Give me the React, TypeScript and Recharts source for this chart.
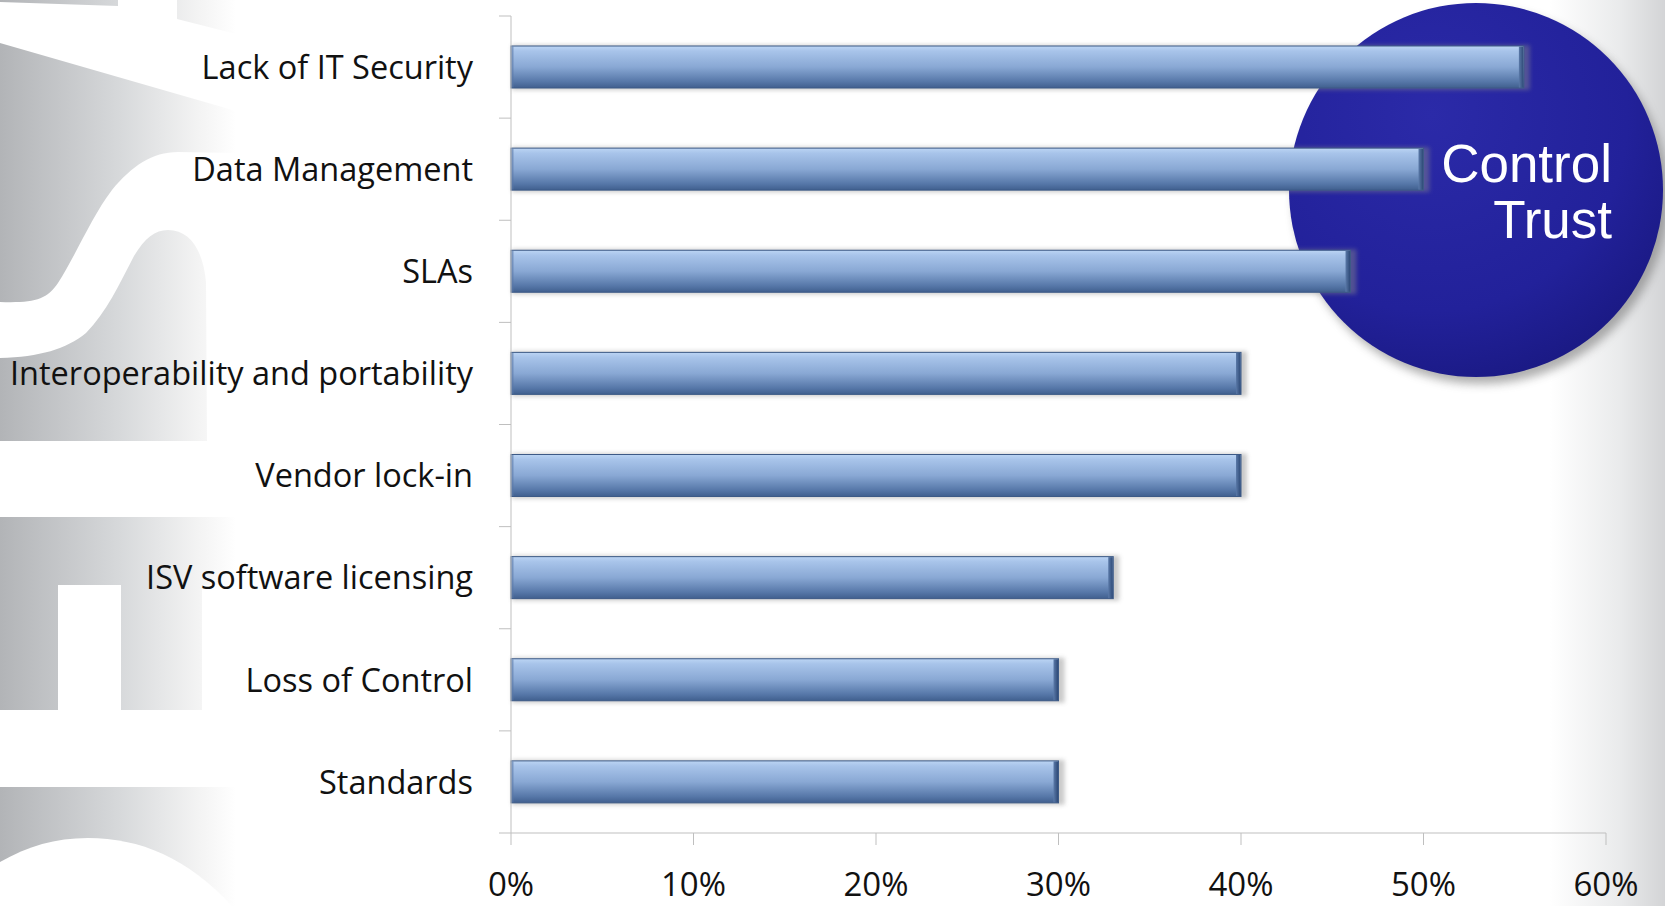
import { BarChart, Bar, XAxis, YAxis } from "recharts";

const CATEGORIES = [
  "Lack of IT Security",
  "Data Management",
  "SLAs",
  "Interoperability and portability",
  "Vendor lock-in",
  "ISV software licensing",
  "Loss of Control",
  "Standards",
];
const SHARES = [0.555, 0.5, 0.46, 0.4, 0.4, 0.33, 0.3, 0.3];
const X_TICKS = [0, 0.1, 0.2, 0.3, 0.4, 0.5, 0.6];
const BADGE_LINES = ["Control", "Trust"];

const W = 1665;
const H = 906;
const MARGIN = { top: 16, right: 59, bottom: 0, left: 0 };
const Y_AXIS_W = 511;
const X_AXIS_H = 73;
const PLOT_H = H - MARGIN.top - X_AXIS_H;
const BAND = PLOT_H / CATEGORIES.length;

const data = CATEGORIES.map((name, i) => ({ name, value: SHARES[i] }));

const LABEL_FONT = "'Open Sans', Lato, sans-serif";
const AXIS_GREY = "#bfbfbf";

function CategoryTick(props: any) {
  const { x, y, payload, index } = props;
  const last = index === CATEGORIES.length - 1;
  const ax = x + 8; // props.x sits tickSize+margin left of the axis
  return (
    <g>
      <line x1={ax - 12} x2={ax} y1={y - BAND / 2} y2={y - BAND / 2} stroke={AXIS_GREY} />
      {last && <line x1={ax - 12} x2={ax} y1={y + BAND / 2} y2={y + BAND / 2} stroke={AXIS_GREY} />}
      <text
        x={ax - 38}
        y={y}
        dy="0.36em"
        textAnchor="end"
        fill="#111"
        fontFamily={LABEL_FONT}
        fontSize={32.5}
      >
        {payload.value}
      </text>
    </g>
  );
}

function GlossyBar(props: any) {
  const { x, y, width, height } = props;
  if (!width || width <= 0) return null;
  return (
    <g>
      <rect x={x + 1} y={y - 1} width={width + 5} height={height + 3} fill="#8a8a8a" opacity={0.45} filter="url(#barShadow)" />
      <rect x={x} y={y} width={width} height={height} fill="url(#barFill)" stroke="#3d5a86" strokeWidth={1} />
      <rect x={x + width - 5} y={y + 0.5} width={4.5} height={height - 1} fill="url(#barCap)" />
      <rect x={x + 0.5} y={y + 0.5} width={2} height={height - 1} fill="#5a78a6" opacity={0.6} />
    </g>
  );
}

function Backdrop() {
  return (
    <svg width={W} height={H} style={{ position: "absolute", left: 0, top: 0 }}>
      <defs>
        <linearGradient id="wmFade" x1="0" y1="0" x2="236" y2="0" gradientUnits="userSpaceOnUse">
          <stop offset="0" stopColor="#b2b4b7" />
          <stop offset="0.5" stopColor="#d6d8da" />
          <stop offset="0.85" stopColor="#f4f4f4" />
          <stop offset="1" stopColor="#ffffff" />
        </linearGradient>
        <linearGradient id="edgeFade" x1="1550" y1="0" x2="1665" y2="0" gradientUnits="userSpaceOnUse">
          <stop offset="0" stopColor="#ffffff" />
          <stop offset="0.6" stopColor="#eaebec" />
          <stop offset="1" stopColor="#d3d4d6" />
        </linearGradient>
        <radialGradient id="badgeFill" cx="0.38" cy="0.3" r="0.75">
          <stop offset="0" stopColor="#2b2aa8" />
          <stop offset="0.7" stopColor="#22219a" />
          <stop offset="1" stopColor="#1a1983" />
        </radialGradient>
        <filter id="badgeShadow" x="-20%" y="-20%" width="140%" height="140%">
          <feGaussianBlur stdDeviation="5" />
        </filter>
      </defs>
      <rect x={0} y={0} width={W} height={H} fill="#ffffff" />
      <rect x={1550} y={0} width={115} height={H} fill="url(#edgeFade)" />

      {/* watermark letters on the left */}
      <g fill="url(#wmFade)">
        <path d="M0,0 L118,0 L118,6 L0,2 Z" />
        <path d="M177,0 L236,0 L236,34 L177,19 Z" />
        <path d="M0,43 L236,111 L236,153 L178,152 C152,152 132,166 112,190 C92,216 76,255 58,283 C46,300 35,303 0,302 Z" />
        <path d="M0,358 C40,357 66,349 86,333 C106,313 120,283 134,256 C145,238 155,230 168,230 C190,230 203,250 206,282 L207,441 L0,441 Z" />
        <path d="M0,517 L236,517 L236,585 L202,585 L202,710 L121,710 L121,585 L58,585 L58,710 L0,710 Z" />
        <path d="M0,787 L236,787 L236,906 L0,906 Z" />
      </g>
      <path d="M0,862 C28,846 55,838 88,838 C140,838 188,858 232,906 L0,906 Z" fill="#ffffff" />

      {/* Control / Trust badge */}
      <circle cx={1481} cy={197} r={187} fill="#6d6d6d" opacity={0.55} filter="url(#badgeShadow)" />
      <circle cx={1476} cy={190} r={187} fill="url(#badgeFill)" />
      {BADGE_LINES.map((t, i) => (
        <text
          key={t}
          x={1612}
          y={182 + i * 56}
          textAnchor="end"
          fill="#ffffff"
          fontFamily="'Liberation Sans', Arial, sans-serif"
          fontSize={53}
        >
          {t}
        </text>
      ))}
    </svg>
  );
}

export default function App() {
  return (
    <div style={{ position: "absolute", left: 0, top: 0, width: W, height: H, overflow: "hidden" }}>
      <Backdrop />
      <div style={{ position: "absolute", left: 0, top: 0 }}>
        <BarChart width={W} height={H} data={data} layout="vertical" margin={MARGIN} barSize={42}>
          <defs>
            <linearGradient id="barFill" x1="0" y1="0" x2="0" y2="1">
              <stop offset="0" stopColor="#bcd5f4" />
              <stop offset="0.12" stopColor="#a8c4ea" />
              <stop offset="0.5" stopColor="#89a8d4" />
              <stop offset="0.85" stopColor="#5677a8" />
              <stop offset="1" stopColor="#405f8e" />
            </linearGradient>
            <linearGradient id="barCap" x1="0" y1="0" x2="1" y2="0">
              <stop offset="0" stopColor="#5a79a8" />
              <stop offset="1" stopColor="#2f4b78" />
            </linearGradient>
            <filter id="barShadow" x="-5%" y="-30%" width="110%" height="160%">
              <feGaussianBlur stdDeviation="2" />
            </filter>
          </defs>
          <XAxis
            type="number"
            domain={[0, 0.6]}
            ticks={X_TICKS}
            interval={0}
            height={X_AXIS_H}
            axisLine={{ stroke: AXIS_GREY }}
            tickLine={{ stroke: AXIS_GREY }}
            tickSize={12}
            tickMargin={28}
            tick={{ fill: "#111", fontSize: 33, fontFamily: LABEL_FONT }}
            tickFormatter={(v: number) => `${Math.round(v * 100)}%`}
          />
          <YAxis
            type="category"
            dataKey="name"
            width={Y_AXIS_W}
            axisLine={{ stroke: AXIS_GREY }}
            tickLine={false}
            tickSize={6}
            tickMargin={2}
            interval={0}
            tick={<CategoryTick />}
          />
          <Bar dataKey="value" shape={<GlossyBar />} isAnimationActive={false} />
        </BarChart>
      </div>
    </div>
  );
}
